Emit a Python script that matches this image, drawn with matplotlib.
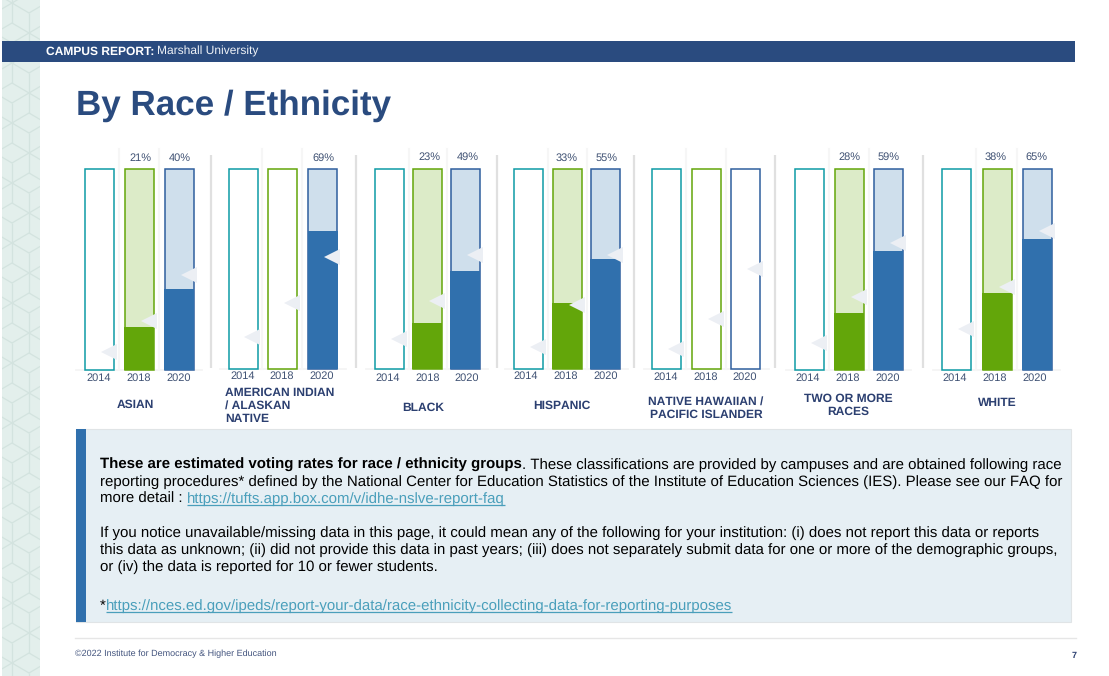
import numpy as np
import matplotlib
matplotlib.use('Agg')
import matplotlib.pyplot as plt
from matplotlib.collections import LineCollection
from matplotlib.patches import Rectangle

plt.rcParams['font.family'] = ['Liberation Sans', 'DejaVu Sans']
plt.rcParams['text.hinting'] = 'no_hinting'
plt.rcParams['text.hinting_factor'] = 1

# data
groups = ['ASIAN', 'AMERICAN INDIAN\n/ ALASKAN\nNATIVE', 'BLACK', 'HISPANIC',
          'NATIVE HAWAIIAN /\nPACIFIC ISLANDER', 'TWO OR MORE\nRACES', 'WHITE']
years = ['2014', '2018', '2020']
nan = np.nan
rate_2014 = [nan, nan, nan, nan, nan, nan, nan]
rate_2018 = [21, nan, 23, 33, nan, 28, 38]
rate_2020 = [40, 69, 49, 55, nan, 59, 65]
avg_2014 = [8.5, 16, 15, 11, 10, 13, 20]
avg_2018 = [24, 33, 34, 32, 25, 36, 41]
avg_2020 = [47, 56, 57, 57, 50, 63, 69]

# layout, in pixels of the page
W, H = 1109, 676
bar_lefts = [[84, 124, 164], [228, 268, 308], [374, 412, 450], [513, 552, 590],
             [652, 692, 731], [794, 834, 873], [941, 982, 1022]]
bar_w = 30
bar_tops = [169, 169, 169, 169, 169, 169, 169]
bar_bottoms = [369.5, 368.5, 368.5, 368.5, 368.5, 369.5, 369.5]
year_y = [378, 376, 378, 376, 377, 378, 378]
pct_y = [158, 158, 157, 158, 158, 157, 157]
year_x = [[99, 139, 179], [243, 282, 322], [388, 428, 467], [526, 566, 606],
          [666, 706, 745], [808, 848, 888], [955, 995, 1035]]
group_xy = [(135, 405), (225, 406), (423, 408), (562, 406), (706, 408), (848, 405), (997, 403)]
separators = [211, 355.5, 497, 634, 775, 923]

NAVY = '#2a4b7f'
LABEL = '#3f5173'
LINK = '#4a9fbb'
edge_cols = ['#0e9ba5', '#63a60a', '#2f5f9e']
light_cols = ['#ffffff', '#dcebc8', '#cfdfec']
dark_cols = ['#0e9ba5', '#63a60a', '#3070ad']

fig = plt.figure(figsize=(W / 100, H / 100), dpi=100)

# hexagon strip on the left
band = fig.add_axes([2 / W, 0, 38 / W, 1], zorder=0)
band.set_xlim(2, 40)
band.set_ylim(H, 0)
band.axis('off')
band.add_patch(Rectangle((2, 0), 38, H, color='#e3efec', zorder=0))
segs = []
for row in range(-1, 12):
    y = 33 + row * 60
    for dx in (-34, 0, 34):
        for cx, cy in [(12 + dx, y), (29 + dx, y + 30)]:
            segs.append([(cx - 17, cy), (cx, cy - 10), (cx + 17, cy), (cx, cy + 10), (cx - 17, cy)])
        segs.append([(12 + dx, y + 10), (12 + dx, y + 30)])
        segs.append([(29 + dx, y), (29 + dx, y + 20)])
        segs.append([(29 + dx, y + 40), (29 + dx, y + 60)])
        segs.append([(12 + dx, y + 30), (12 + dx, y + 50)])
band.add_collection(LineCollection(segs, colors='#d3e3df', linewidths=0.9, zorder=1))

page = fig.add_axes([0, 0, 1, 1], zorder=1)
page.set_xlim(0, W)
page.set_ylim(H, 0)
page.axis('off')

# header
page.add_patch(Rectangle((2, 41), 1073, 21, color=NAVY, lw=0))
renderer = fig.canvas.get_renderer()


def text_run(x, y, s, **kw):
    # draws s with its baseline at y and returns the x where it ends
    t = page.text(x, y, s, va='baseline', ha='left', **kw)
    x1 = x + t.get_window_extent(renderer).width
    if kw.get('color') == LINK:
        page.plot([x, x1], [y + 2, y + 2], color=LINK, lw=0.9, solid_capstyle='butt')
    return x1


x1 = text_run(46, 55, 'CAMPUS REPORT: ', color='white', fontsize=8.7, fontweight='bold')
text_run(x1 - 1, 55, 'Marshall University', color='#eef2f7', fontsize=8.7)

page.text(76, 115, 'By Race / Ethnicity', color=NAVY, fontsize=25.1, fontweight='bold',
          va='baseline', ha='left')

# group panels
for x in separators:
    page.plot([x, x], [155, 368], color='#e0e0e0', lw=1.6, solid_capstyle='butt')

for i, name in enumerate(groups):
    lefts = bar_lefts[i]
    top, bottom = bar_tops[i], bar_bottoms[i]
    xa0, xa1 = lefts[0], lefts[2] + bar_w
    ax = fig.add_axes([xa0 / W, 1 - bottom / H, (xa1 - xa0) / W, (bottom - top) / H], zorder=2)
    ax.set_xlim(xa0, xa1)
    ax.set_ylim(0, 100)
    ax.axis('off')
    rates = [rate_2014[i], rate_2018[i], rate_2020[i]]
    avgs = [avg_2014[i], avg_2018[i], avg_2020[i]]
    ax.plot([xa0 - 8, xa1 + 8], [0, 0], color='#f3f3f3', lw=1.2, clip_on=False, zorder=0)
    for j in range(3):
        xc = lefts[j] + bar_w / 2
        has_value = not np.isnan(rates[j])
        bg = light_cols[j] if has_value else '#ffffff'
        ax.bar(xc, 100, width=bar_w - 1, facecolor=bg, edgecolor=edge_cols[j], linewidth=1.1,
               clip_on=False, zorder=2)
        if has_value:
            ax.bar(xc, rates[j], width=bar_w, color=dark_cols[j], linewidth=0,
                   clip_on=False, zorder=3)
            page.text(year_x[i][j] + 1, pct_y[i], f'{rates[j]:.0f}%', color=LABEL, fontsize=8.2,
                      ha='center', va='center')
        if j < 2:
            ax.plot([lefts[j] + bar_w + 4.5] * 2, [0, 110], color='#f6f6f6', lw=1.6,
                    clip_on=False, zorder=1)
        ax.plot(lefts[j] + bar_w - 5.5, avgs[j], marker='<', ms=11.5, color='#eceff4',
                mew=0, clip_on=False, zorder=5)
        page.text(year_x[i][j], year_y[i], years[j], color=LABEL, fontsize=8.2,
                  ha='center', va='center')
    gx, gy = group_xy[i]
    left_aligned = '/ ALASKAN' in name
    page.text(gx, gy, name, color='#2b3f70', fontsize=8.8, fontweight='bold', linespacing=1.2,
              ha='left' if left_aligned else 'center', va='center',
              multialignment='left' if left_aligned else 'center')

# note box
page.add_patch(Rectangle((76, 429), 995, 193, facecolor='#e6eff4', edgecolor='#e0e4e6', lw=0.8))
page.add_patch(Rectangle((76, 429), 10, 193, color='#3070ad', lw=0))
BODY = 10.7
x1 = text_run(100, 469, 'These are estimated voting rates for race / ethnicity groups', color='black',
              fontsize=BODY, fontweight='bold')
text_run(x1, 469, '. These classifications are provided by campuses and are obtained following race',
         color='black', fontsize=BODY)
text_run(100, 486, 'reporting procedures* defined by the National Center for Education Statistics of the Institute of Education Sciences (IES). Please see our FAQ for',
         color='black', fontsize=BODY)
x1 = text_run(100, 503, 'more detail : ', color='black', fontsize=BODY)
text_run(x1, 503, 'https://tufts.app.box.com/v/idhe-nslve-report-faq', color=LINK, fontsize=BODY)
text_run(100, 537, 'If you notice unavailable/missing data in this page, it could mean any of the following for your institution: (i) does not report this data or reports',
         color='black', fontsize=BODY)
text_run(100, 554, 'this data as unknown; (ii) did not provide this data in past years; (iii) does not separately submit data for one or more of the demographic groups,',
         color='black', fontsize=BODY)
text_run(100, 571, 'or (iv) the data is reported for 10 or fewer students.', color='black', fontsize=BODY)
x1 = text_run(100, 610, '*', color='black', fontsize=BODY)
text_run(x1, 610, 'https://nces.ed.gov/ipeds/report-your-data/race-ethnicity-collecting-data-for-reporting-purposes',
         color=LINK, fontsize=BODY)

# footer
page.plot([75, 1076], [637.5, 637.5], color='#e6e6e6', lw=1)
page.text(75, 656, '©2022 Institute for Democracy & Higher Education', color='#44557f', fontsize=6.5,
          ha='left', va='baseline')
page.text(1074, 656, '7', color='#2b3f70', fontsize=6.5, fontweight='bold', ha='center', va='center')

fig.savefig('out.png', dpi=100)
